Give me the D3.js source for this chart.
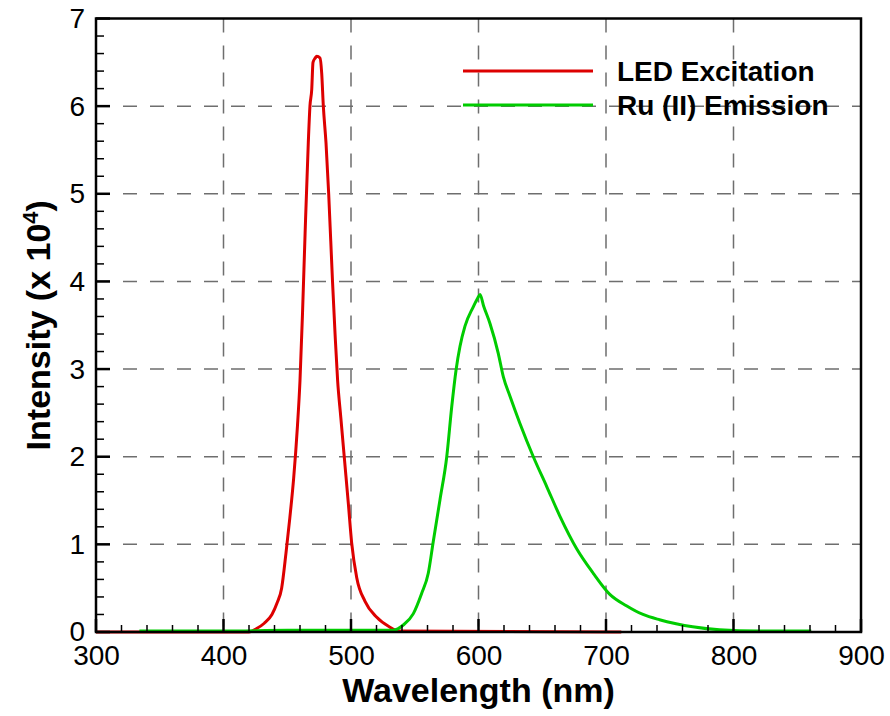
<!DOCTYPE html>
<html>
<head>
<meta charset="utf-8">
<script src="https://cdn.jsdelivr.net/npm/d3@7"></script>
<style>
  body { margin: 0; background: #fff; }
  svg { display: block; font-family: Arial, "Liberation Sans", sans-serif; }
</style>
</head>
<body>
<svg width="890" height="716"></svg>
<script>
// LED excitation spectrum (nm, intensity x 10^4)
var ledWavelength = [300, 420, 426, 432, 438, 442, 445.6, 449, 452, 455, 458, 460, 462, 464, 466.5, 467.8, 469.2, 470.2, 472, 473.1, 475.7, 477, 478.3, 480.4, 482.5, 485.5, 487.5, 489.5, 492, 495, 498, 500.5, 504.5, 511, 520, 530, 538, 712];
var ledIntensity  = [0, 0, 0.04, 0.1, 0.2, 0.33, 0.5, 0.9, 1.3, 1.75, 2.35, 2.87, 3.65, 4.55, 5.58, 6.0, 6.19, 6.5, 6.55, 6.57, 6.55, 6.38, 6.0, 5.58, 5.0, 4.0, 3.4, 2.87, 2.45, 1.95, 1.45, 1.02, 0.62, 0.35, 0.17, 0.06, 0.01, 0];

// Ru(II) emission spectrum
var ruWavelength = [334, 400, 450, 500, 525, 533.2, 541, 548.9, 555.4, 560.6, 564.5, 569.8, 575.1, 579, 582.4, 585.5, 589.4, 595.9, 599, 601.2, 604, 609, 615.5, 619.5, 624.7, 632.5, 643, 653.5, 663.9, 677, 690, 703, 716, 729, 742, 755, 768, 789, 820, 861];
var ruIntensity  = [0.01, 0.01, 0.02, 0.02, 0.02, 0.02, 0.08, 0.21, 0.44, 0.67, 1.03, 1.51, 2.0, 2.57, 2.99, 3.26, 3.49, 3.71, 3.8, 3.85, 3.72, 3.52, 3.18, 2.91, 2.69, 2.38, 2.0, 1.66, 1.32, 0.95, 0.67, 0.43, 0.3, 0.2, 0.14, 0.095, 0.06, 0.025, 0.01, 0.01];

var xTicks = [300, 400, 500, 600, 700, 800, 900];
var yTicks = [0, 1, 2, 3, 4, 5, 6, 7];
var seriesNames = ["LED Excitation", "Ru (II) Emission"];
var seriesColors = ["#dd0000", "#00cc00"];

var svg = d3.select("svg");
var margin = {left: 96, top: 18.5, right: 29, bottom: 84};
var W = 890, H = 716;

var x = d3.scaleLinear().domain([300, 900]).range([margin.left, W - margin.right]);
var y = d3.scaleLinear().domain([0, 7]).range([H - margin.bottom, margin.top]);

// grid
var grid = svg.append("g").attr("stroke", "#6e6e6e").attr("stroke-width", 1.5).attr("stroke-dasharray", "14,13");
grid.selectAll(".gx").data(xTicks.slice(1, -1)).enter().append("line")
  .attr("x1", d => x(d)).attr("x2", d => x(d))
  .attr("y1", y(7)).attr("y2", y(0));
grid.selectAll(".gy").data(yTicks.slice(1, -1)).enter().append("line")
  .attr("y1", d => y(d)).attr("y2", d => y(d))
  .attr("x1", x(300)).attr("x2", x(900));

// curves
var line = d3.line().x(d => x(d[0])).y(d => y(d[1])).curve(d3.curveMonotoneX);
var led = ledWavelength.map((w, i) => [w, ledIntensity[i]]);
var ru = ruWavelength.map((w, i) => [w, ruIntensity[i]]);
[led, ru].forEach(function(s, i) {
  svg.append("path").datum(s)
    .attr("d", line)
    .attr("fill", "none")
    .attr("stroke", seriesColors[i])
    .attr("stroke-width", 3)
    .attr("stroke-linejoin", "round");
});

// ticks (drawn by hand, pointing inward)
var xMinor = d3.range(300, 901, 20).filter(v => v % 100 != 0);
var yMinor = d3.range(0, 7.01, 0.2).filter(v => Math.abs(v - Math.round(v)) > 0.01);
var ticks = svg.append("g").attr("stroke", "#000");
ticks.selectAll(".xm").data(xMinor).enter().append("line")
  .attr("x1", d => x(d)).attr("x2", d => x(d))
  .attr("y1", y(0)).attr("y2", y(0) - 7).attr("stroke-width", 1.5);
ticks.selectAll(".ym").data(yMinor).enter().append("line")
  .attr("y1", d => y(d)).attr("y2", d => y(d))
  .attr("x1", x(300)).attr("x2", x(300) + 8).attr("stroke-width", 1.5);
ticks.selectAll(".xM").data(xTicks).enter().append("line")
  .attr("x1", d => x(d)).attr("x2", d => x(d))
  .attr("y1", y(0)).attr("y2", y(0) - 13).attr("stroke-width", 2.5);
ticks.selectAll(".yM").data(yTicks).enter().append("line")
  .attr("y1", d => y(d)).attr("y2", d => y(d))
  .attr("x1", x(300)).attr("x2", x(300) + 14).attr("stroke-width", 2.5);

// tick labels
var xAxis = svg.append("g").attr("transform", "translate(0," + y(0) + ")")
  .call(d3.axisBottom(x).tickValues(xTicks).tickSize(0).tickPadding(13).tickFormat(d3.format("d")));
var yAxis = svg.append("g").attr("transform", "translate(" + x(300) + ",0)")
  .call(d3.axisLeft(y).tickValues(yTicks).tickSize(0).tickPadding(11).tickFormat(d3.format("d")));
[xAxis, yAxis].forEach(function(a) {
  a.select(".domain").remove();
  a.selectAll("line").remove();
  a.selectAll("text").attr("font-size", "28px").attr("fill", "#000")
    .attr("font-family", "Arial, 'Liberation Sans', sans-serif");
});

// frame
svg.append("rect")
  .attr("x", x(300)).attr("y", y(7))
  .attr("width", x(900) - x(300)).attr("height", y(0) - y(7))
  .attr("fill", "none").attr("stroke", "#000").attr("stroke-width", 2.5);

// axis titles
svg.append("text")
  .attr("x", (x(300) + x(900)) / 2).attr("y", 702)
  .attr("text-anchor", "middle")
  .attr("font-size", "34px").attr("font-weight", "bold")
  .text("Wavelength (nm)");

var yt = svg.append("text")
  .attr("transform", "translate(50," + ((y(0) + y(7)) / 2) + ") rotate(-90)")
  .attr("text-anchor", "middle")
  .attr("font-size", "34px").attr("font-weight", "bold");
yt.append("tspan").text("Intensity (x 10");
yt.append("tspan").attr("font-size", "22px").attr("dy", "-12").text("4");
yt.append("tspan").attr("dy", "12").text(")");

// legend
var legend = svg.append("g");
seriesNames.forEach(function(name, i) {
  var ly = 71 + i * 34;
  legend.append("line")
    .attr("x1", 463).attr("x2", 593).attr("y1", ly).attr("y2", ly)
    .attr("stroke", seriesColors[i]).attr("stroke-width", 3);
  legend.append("text")
    .attr("x", 617).attr("y", ly + 10)
    .attr("font-size", "28px").attr("font-weight", "bold")
    .text(name);
});
</script>
</body>
</html>
